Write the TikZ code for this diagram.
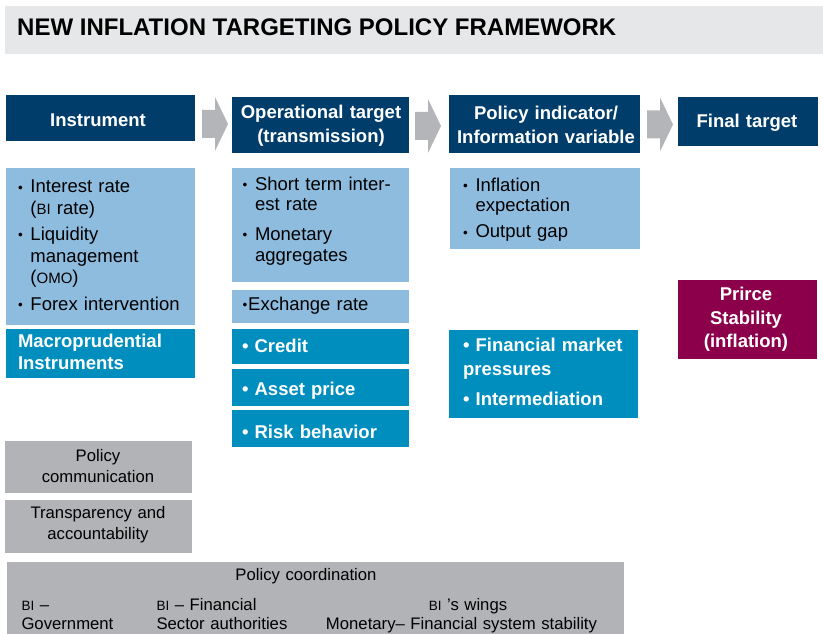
\documentclass[tikz,border=0pt]{standalone}
\usepackage{fontspec}
\setmainfont{Liberation Sans}
\definecolor{navy}{HTML}{003D6B}
\definecolor{lblue}{HTML}{8EBCDF}
\definecolor{tealb}{HTML}{008EBE}
\definecolor{mag}{HTML}{8C004B}
\definecolor{gry}{HTML}{B1B3B6}
\definecolor{titlebg}{HTML}{E6E7E8}
\definecolor{arrgray}{HTML}{B3B5B8}
\newcommand\fs[2]{\fontsize{#1}{#2}\selectfont}
\newcommand\sbul{\makebox[12.5pt][l]{\raisebox{1pt}{\fs{13.5}{13}•}}}
\newcommand\hind{\hspace*{12.5pt}}
\newcommand\smbi[1]{{\fs{15}{14}#1}}
\newcommand\tinybi{{\fs{13.5}{13}BI}}
\newcommand\blockarrow[2]{\fill[arrgray] (#1,#2-14) -- (#1+13,#2-14) -- (#1+13,#2-27) -- (#1+26,#2) -- (#1+13,#2+27) -- (#1+13,#2+14) -- (#1,#2+14) -- cycle;}
\begin{document}
\begin{tikzpicture}[x=1pt,y=-1pt,
  box/.style={draw=none,inner sep=0pt,outer sep=0pt,anchor=north west},
  lt/.style={inner sep=0pt,outer sep=0pt,anchor=base west,align=left,text width=#1},
  bt/.style={inner sep=0pt,outer sep=0pt,anchor=base west,align=left,text width=#1,text=white},
  hd/.style={inner sep=0pt,outer sep=0pt,anchor=base,align=center,text width=#1,text=white},
  gt/.style={inner sep=0pt,outer sep=0pt,anchor=base,align=center,text width=#1},
]
\useasboundingbox (0,0) rectangle (823,634);
% title
\node[box,fill=titlebg,minimum width=818pt,minimum height=48pt] (titlebar) at (5,6) {};
\node[inner sep=0pt,anchor=base west,font=\bfseries\fs{24}{28}] (title) at (17,35.5) {NEW INFLATION TARGETING POLICY FRAMEWORK};
% header boxes
\node[box,fill=navy,minimum width=189pt,minimum height=46pt] (hInstr) at (6,95) {};
\node[box,fill=navy,minimum width=177pt,minimum height=56pt] (hOp) at (232,97) {};
\node[box,fill=navy,minimum width=191pt,minimum height=58pt] (hInd) at (449,95) {};
\node[box,fill=navy,minimum width=140pt,minimum height=49pt] (hFin) at (678,97) {};
\node[hd=185pt,font=\bfseries\fs{18.5}{24}] (thInstr) at (98,126.5) {Instrument};
\node[hd=175pt,font=\bfseries\fs{18.5}{24}] (thOp) at (321,118.5) {Operational target\\(transmission)};
\node[hd=190pt,font=\bfseries\fs{18.5}{24}] (thInd) at (546,119.5) {Policy indicator/\\Information variable};
\node[hd=138pt,font=\bfseries\fs{18.5}{24}] (thFin) at (747,127.5) {Final target};
% arrows
\blockarrow{202}{124}
\blockarrow{415}{126}
\blockarrow{647}{124.5}
% light blue boxes
\node[box,fill=lblue,minimum width=189pt,minimum height=157pt] (bInstr) at (6,168) {};
\node[box,fill=lblue,minimum width=177pt,minimum height=114pt] (bOp) at (232,168) {};
\node[box,fill=lblue,minimum width=177pt,minimum height=33pt] (bEx) at (232,290) {};
\node[box,fill=lblue,minimum width=190pt,minimum height=81pt] (bInd) at (450,168) {};
\node[lt=175pt,font=\fs{18.5}{21.5}] (tInstr) at (18,193) {\sbul Interest rate\\ \hind(\smbi{BI} rate)\\[5pt] \sbul Liquidity\\ \hind management\\ \hind(\smbi{OMO})\\[5pt] \sbul Forex intervention};
\node[lt=165pt,font=\fs{18.5}{20.5}] (tOp) at (242.5,190) {\sbul Short term inter-\\ \hind est rate\\[9.5pt] \sbul Monetary\\ \hind aggregates};
\node[lt=165pt,font=\fs{18.5}{21}] (tEx) at (242.5,310.5) {\raisebox{1pt}{\fs{13.5}{13}•}\hspace{1pt}Exchange rate};
\node[lt=175pt,font=\fs{18.5}{20}] (tInd) at (463,191) {\sbul Inflation\\ \hind expectation\\[7pt] \sbul Output gap};
% teal boxes
\node[box,fill=tealb,minimum width=189pt,minimum height=49pt] (bMacro) at (6,329) {};
\node[box,fill=tealb,minimum width=177pt,minimum height=35pt] (bCredit) at (232,329) {};
\node[box,fill=tealb,minimum width=177pt,minimum height=37pt] (bAsset) at (232,369) {};
\node[box,fill=tealb,minimum width=177pt,minimum height=37pt] (bRisk) at (232,410) {};
\node[box,fill=tealb,minimum width=189pt,minimum height=88pt] (bFm) at (449,330) {};
\node[bt=180pt,font=\bfseries\fs{18.5}{22}] (tMacro) at (18,347) {Macroprudential\\Instruments};
\node[bt=165pt,font=\bfseries\fs{18.5}{22}] (tCredit) at (242,352.5) {• Credit};
\node[bt=165pt,font=\bfseries\fs{18.5}{22}] (tAsset) at (242,395) {• Asset price};
\node[bt=165pt,font=\bfseries\fs{18.5}{22}] (tRisk) at (242,438.5) {• Risk behavior};
\node[bt=175pt,font=\bfseries\fs{18.5}{23.5}] (tFm) at (463,351.5) {• Financial market\\pressures\\[6.5pt]• Intermediation};
% magenta
\node[box,fill=mag,minimum width=139pt,minimum height=79pt] (bPrice) at (678,280) {};
\node[hd=135pt,font=\bfseries\fs{18.5}{23.5}] (tPrice) at (746,300.5) {Prirce\\Stability\\(inflation)};
% gray boxes
\node[box,fill=gry,minimum width=187pt,minimum height=52pt] (bComm) at (5,441) {};
\node[box,fill=gry,minimum width=187pt,minimum height=53pt] (bTrans) at (5,500) {};
\node[box,fill=gry,minimum width=617pt,minimum height=72pt] (bCoord) at (7,562) {};
\node[gt=185pt,font=\fs{16.7}{21}] (tComm) at (98,461.5) {Policy\\communication};
\node[gt=185pt,font=\fs{16.7}{21}] (tTrans) at (98,518.5) {Transparency and\\accountability};
\node[gt=300pt,font=\fs{16.7}{21}] (tCoord) at (306,580.5) {Policy coordination};
\node[lt=130pt,font=\fs{16.7}{19}] (tGov) at (21.5,610.5) {\tinybi{} –\\Government};
\node[lt=160pt,font=\fs{16.7}{19}] (tFsa) at (156.5,610.5) {\tinybi{} – Financial\\Sector authorities};
\node[gt=120pt,font=\fs{16.7}{19}] (tWings) at (468,610.5) {\tinybi{} ’s wings};
\node[gt=290pt,font=\fs{16.7}{19}] (tMon) at (461.5,629.5) {Monetary– Financial system stability};
\end{tikzpicture}
\end{document}
